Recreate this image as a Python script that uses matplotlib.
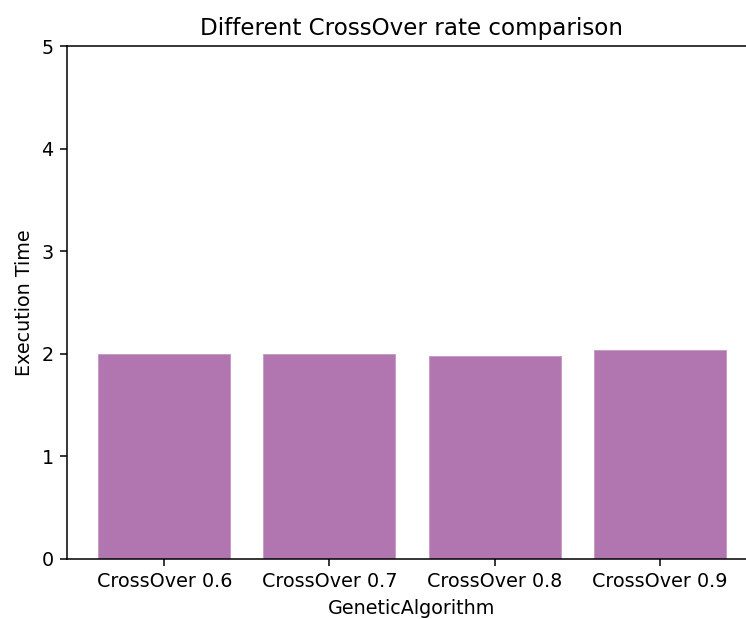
import matplotlib
matplotlib.use("Agg")
import matplotlib.pyplot as plt

# crossover rates and measured execution times
labels = ['CrossOver 0.6', 'CrossOver 0.7', 'CrossOver 0.8', 'CrossOver 0.9']
exec_times = [1.995, 1.995, 1.978, 2.035]

dpi = 138
W, H = 746, 619
fig = plt.figure(figsize=(W / dpi, H / dpi), dpi=dpi)

# axes extends past the right edge like the cropped original
left, right, bottom, top = 67, 757, 559, 46
ax = fig.add_axes([left / W, (H - bottom) / H, (right - left) / W, (bottom - top) / H])

ax.bar(labels, exec_times, color='#b175b0', edgecolor='#c79bc6', linewidth=0.5)
ax.set_ylim(0, 5)
ax.set_title('Different CrossOver rate comparison')
ax.set_xlabel('GeneticAlgorithm')
ax.set_ylabel('Execution Time')
ax.spines['right'].set_visible(False)  # cropped out in the original

fig.savefig('out.png', dpi=dpi)
